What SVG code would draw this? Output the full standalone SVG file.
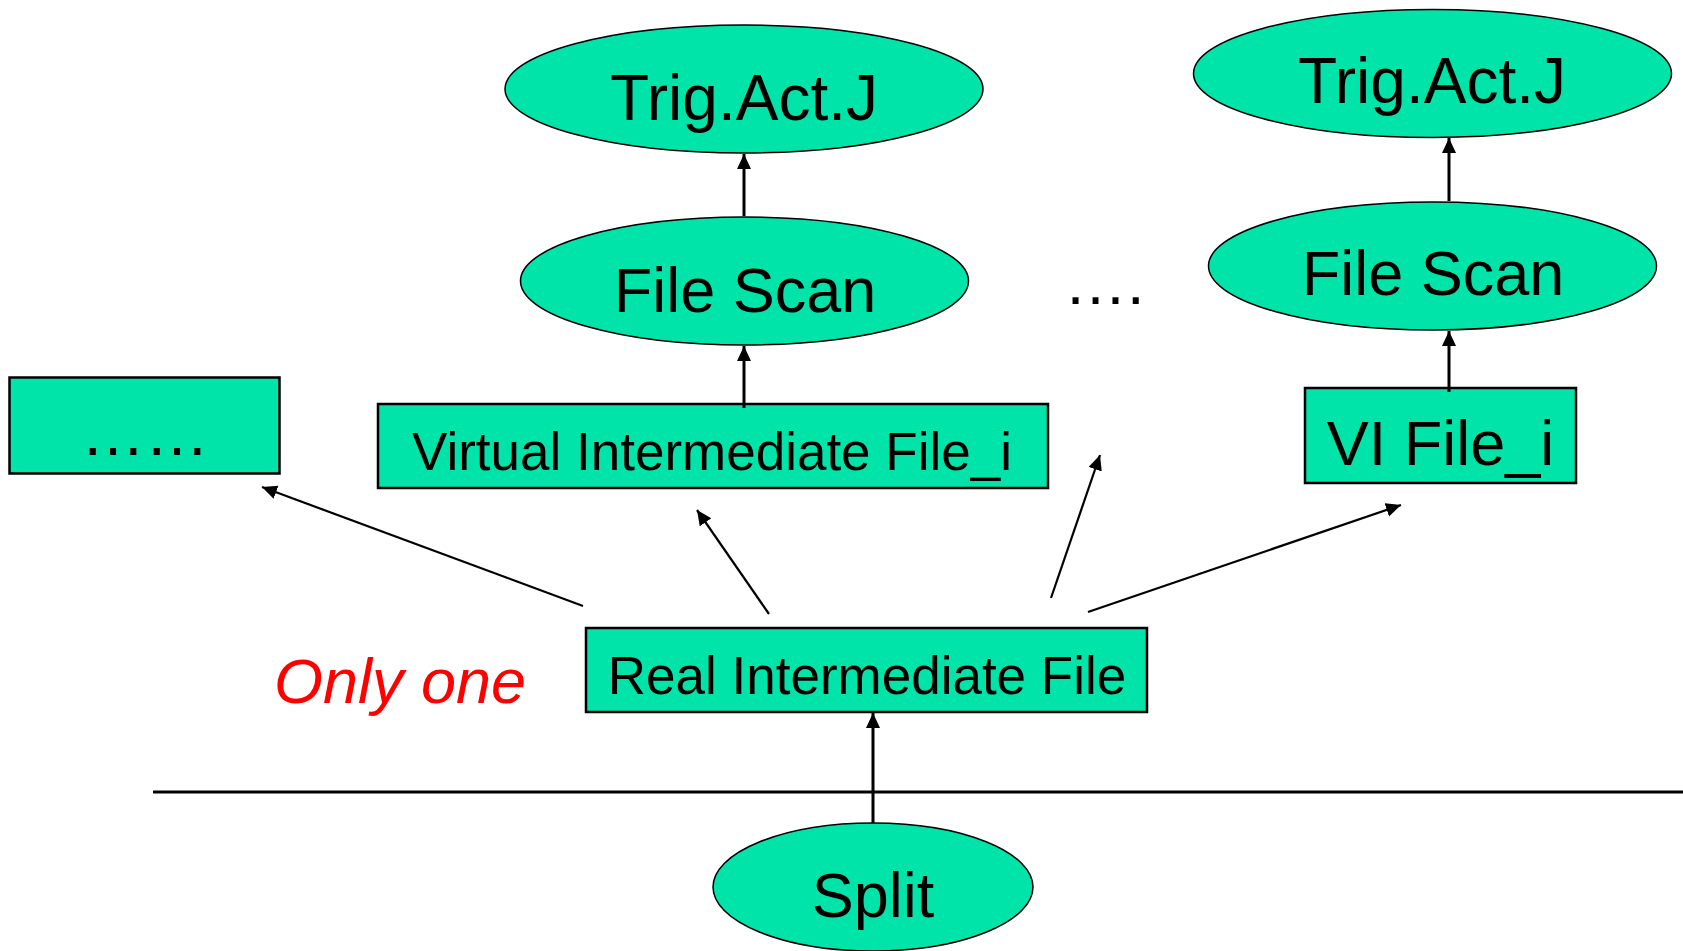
<svg xmlns="http://www.w3.org/2000/svg" width="1683" height="951" viewBox="0 0 1683 951">
  <style>
    .node { fill: #00E4AA; stroke: #000; }
    .ell { stroke-width: 1.5; }
    .box { stroke-width: 2.5; }
    text { font-family: "Liberation Sans", Arial, sans-serif; fill: #000; }
    .lbl { text-anchor: middle; }
    .edge { stroke: #000; fill: none; marker-end: url(#arrow); }
    .v { stroke-width: 3; }
    .d { stroke-width: 2.2; }
  </style>
  <defs>
    <marker id="arrow" markerUnits="userSpaceOnUse" markerWidth="16" markerHeight="15" refX="15" refY="7" orient="auto">
      <path d="M0,0 L15,7 L0,14 z" fill="#000"/>
    </marker>
  </defs>
  <rect width="1683" height="951" fill="#fff"/>

  <!-- separator line -->
  <line x1="153" y1="792" x2="1683" y2="792" stroke="#000" stroke-width="3"/>

  <g id="trig-left">
    <ellipse class="node ell" cx="744" cy="89" rx="239" ry="64"/>
    <text class="lbl" x="744" y="120" font-size="64">Trig.Act.J</text>
  </g>
  <g id="scan-left">
    <ellipse class="node ell" cx="744.5" cy="281" rx="224" ry="64"/>
    <text class="lbl" x="745" y="312" font-size="63">File Scan</text>
  </g>
  <g id="trig-right">
    <ellipse class="node ell" cx="1432.5" cy="73.5" rx="239" ry="64"/>
    <text class="lbl" x="1432" y="103" font-size="64">Trig.Act.J</text>
  </g>
  <g id="scan-right">
    <ellipse class="node ell" cx="1432.5" cy="266" rx="224" ry="64"/>
    <text class="lbl" x="1433" y="295" font-size="63">File Scan</text>
  </g>
  <g id="more-box">
    <rect class="node box" x="9.5" y="377.5" width="270" height="96"/>
    <text class="lbl" x="145" y="455" font-size="64">……</text>
  </g>
  <g id="virtual-file">
    <rect class="node box" x="378" y="404" width="670" height="84"/>
    <text class="lbl" x="712" y="470" font-size="53">Virtual Intermediate File_i</text>
  </g>
  <g id="vi-file">
    <rect class="node box" x="1305" y="388" width="271" height="95"/>
    <text class="lbl" x="1440.5" y="465" font-size="63">VI File_i</text>
  </g>
  <g id="more-middle">
    <text x="1064" y="304" font-size="63">….</text>
  </g>
  <g id="real-file">
    <rect class="node box" x="586" y="628" width="561" height="84"/>
    <text class="lbl" x="867" y="694" font-size="53">Real Intermediate File</text>
  </g>
  <g id="only-one">
    <text x="274" y="703" font-size="63" font-style="italic" fill="#FF0000" style="fill:#FF0000">Only one</text>
  </g>
  <g id="split">
    <ellipse class="node ell" cx="873" cy="887" rx="160" ry="64"/>
    <text class="lbl" x="873" y="917" font-size="63">Split</text>
  </g>

  <g id="connectors">
    <line class="edge v" x1="744" y1="216" x2="744" y2="154"/>
    <line class="edge v" x1="744" y1="408" x2="744" y2="346"/>
    <line class="edge v" x1="1449" y1="201" x2="1449" y2="138"/>
    <line class="edge v" x1="1449" y1="392" x2="1449" y2="331"/>
    <line class="edge v" x1="873" y1="823" x2="873" y2="713"/>
    <line class="edge d" x1="583" y1="606" x2="262" y2="487"/>
    <line class="edge d" x1="769" y1="614" x2="697" y2="510"/>
    <line class="edge d" x1="1051" y1="598" x2="1100" y2="455"/>
    <line class="edge d" x1="1088" y1="612" x2="1401" y2="505"/>
  </g>
</svg>
